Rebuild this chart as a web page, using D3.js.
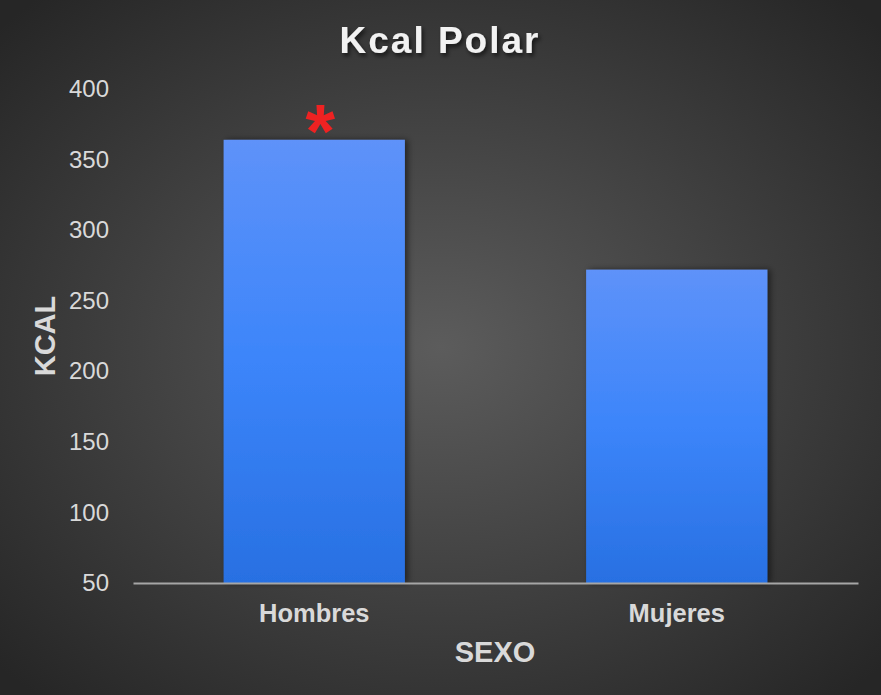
<!DOCTYPE html>
<html>
<head>
<meta charset="utf-8">
<script src="https://cdn.jsdelivr.net/npm/d3@7"></script>
<style>
  html, body { margin: 0; padding: 0; background: #2a2a2a; }
  svg { display: block; }
  text { font-family: Arial, "Liberation Sans", sans-serif; }
</style>
</head>
<body>
<div class="chart"></div>
<script>
var width = 881,
    height = 695;

// data
var categories = ["Hombres", "Mujeres"];
var kcal = [364, 272];
var starred = ["Hombres"];
var yTicks = [50, 100, 150, 200, 250, 300, 350, 400];

var x = d3.scaleBand()
    .domain(categories)
    .range([133, 858])
    .paddingInner(0.5)
    .paddingOuter(0.25);

var y = d3.scaleLinear()
    .domain([50, 400])
    .range([583, 89]);

var svg = d3.select(".chart").append("svg")
    .attr("width", width)
    .attr("height", height);

var defs = svg.append("defs");

var bg = defs.append("radialGradient")
    .attr("id", "bg")
    .attr("cx", "50%").attr("cy", "50%").attr("r", "68%");
bg.append("stop").attr("offset", "0%").attr("stop-color", "#5c5c5c");
bg.append("stop").attr("offset", "100%").attr("stop-color", "#262626");

var barGrad = defs.append("linearGradient")
    .attr("id", "bar")
    .attr("x1", 0).attr("y1", 0).attr("x2", 0).attr("y2", 1);
barGrad.append("stop").attr("offset", "0%").attr("stop-color", "#5e92f9");
barGrad.append("stop").attr("offset", "50%").attr("stop-color", "#3c85fa");
barGrad.append("stop").attr("offset", "100%").attr("stop-color", "#2870e2");

var shadow = defs.append("filter")
    .attr("id", "shadow")
    .attr("x", "-10%").attr("y", "-10%").attr("width", "130%").attr("height", "130%");
shadow.append("feDropShadow")
    .attr("dx", 3).attr("dy", 0).attr("stdDeviation", 3)
    .attr("flood-color", "#000").attr("flood-opacity", 0.5);

var titleShadow = defs.append("filter").attr("id", "tshadow");
titleShadow.append("feDropShadow")
    .attr("dx", 2).attr("dy", 3).attr("stdDeviation", 2)
    .attr("flood-color", "#000").attr("flood-opacity", 0.6);

svg.append("rect")
    .attr("width", width)
    .attr("height", height)
    .attr("fill", "url(#bg)");

// title
svg.append("text")
    .attr("x", 440)
    .attr("y", 53)
    .attr("text-anchor", "middle")
    .attr("font-size", 37)
    .attr("font-weight", "bold")
    .attr("letter-spacing", 2)
    .attr("fill", "#f2f2f2")
    .attr("filter", "url(#tshadow)")
    .text("Kcal Polar");

// y tick labels (no axis line)
var yAxis = d3.axisLeft(y)
    .tickValues(yTicks)
    .tickSize(0)
    .tickPadding(0);

var gy = svg.append("g")
    .attr("transform", "translate(109,0)")
    .call(yAxis);
gy.select(".domain").remove();
gy.selectAll("text")
    .attr("font-size", 24)
    .attr("font-family", "Arial, 'Liberation Sans', sans-serif")
    .attr("fill", "#d9d9d9");

// bars
svg.selectAll(".bar")
    .data(categories)
    .enter().append("rect")
    .attr("class", "bar")
    .attr("x", function(d) { return x(d); })
    .attr("width", x.bandwidth())
    .attr("y", function(d, i) { return y(kcal[i]); })
    .attr("height", function(d, i) { return y(50) - y(kcal[i]); })
    .attr("fill", "url(#bar)")
    .attr("filter", "url(#shadow)");

// significance marks
svg.selectAll(".star")
    .data(starred)
    .enter().append("text")
    .attr("class", "star")
    .attr("x", function(d) { return x(d) + x.bandwidth() / 2 + 6; })
    .attr("y", function(d) { return y(kcal[categories.indexOf(d)]) + 17; })
    .attr("text-anchor", "middle")
    .attr("font-size", 76)
    .attr("font-weight", "bold")
    .attr("fill", "#ee2222")
    .text("*");

// x axis
var xAxis = d3.axisBottom(x)
    .tickSize(0)
    .tickPadding(0);

var gx = svg.append("g")
    .attr("transform", "translate(0," + y(50) + ")")
    .call(xAxis);
gx.select(".domain")
    .attr("stroke", "#a6a6a6")
    .attr("stroke-width", 2);
gx.selectAll("text")
    .attr("dy", 0)
    .attr("y", 39)
    .attr("font-size", 25.5)
    .attr("font-weight", "bold")
    .attr("font-family", "Arial, 'Liberation Sans', sans-serif")
    .attr("fill", "#d9d9d9");

// axis titles
svg.append("text")
    .attr("x", 495)
    .attr("y", 662)
    .attr("text-anchor", "middle")
    .attr("font-size", 29)
    .attr("font-weight", "bold")
    .attr("fill", "#d9d9d9")
    .text("SEXO");

svg.append("text")
    .attr("transform", "translate(55,336) rotate(-90)")
    .attr("text-anchor", "middle")
    .attr("font-size", 29)
    .attr("font-weight", "bold")
    .attr("fill", "#d9d9d9")
    .text("KCAL");
</script>
</body>
</html>
